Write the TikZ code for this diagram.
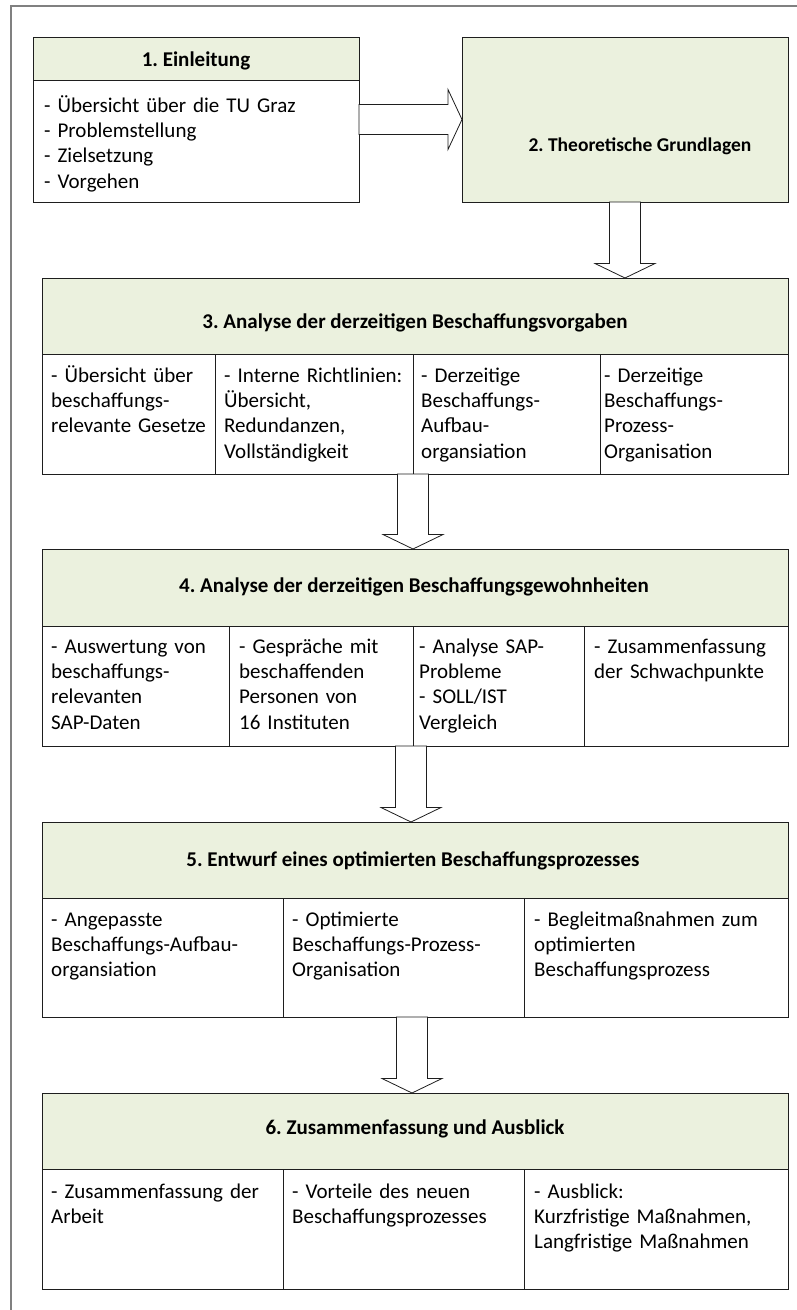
\documentclass[tikz,border=0pt]{standalone}
\usepackage{fontspec}
\setmainfont{Carlito}
\usetikzlibrary{calc}
\frenchspacing

\definecolor{hdrgreen}{RGB}{235,241,222}
\definecolor{framegray}{RGB}{128,128,128}
\definecolor{boxedge}{RGB}{30,30,30}

\tikzset{
  boxline/.style={draw=boxedge, line width=1pt},
  area/.style={boxline, anchor=north west, inner sep=0pt, outer sep=0pt},
  hdr/.style={area, fill=hdrgreen},
  cell/.style={area, fill=white},
  titletext/.style={inner sep=0pt, anchor=center, text height=14pt, text depth=5pt,
    font=\bfseries\fontsize{21}{25.4}\selectfont},
  bodytext/.style={inner sep=0pt, anchor=base west, text width=260pt, align=left,
    font=\fontsize{21}{25.4}\selectfont},
  blockarrow/.style={draw=boxedge, line width=0.8pt, fill=white, line join=miter},
}

% hollow block arrow pointing down from #1 to the y-level of #2
\newcommand\downblock[2]{%
  \draw[blockarrow] let \p1=(#1), \p2=(#2) in
    (\x1-15.5pt,\y1) -- (\x1-15.5pt,\y2+14.5pt) -- (\x1-30pt,\y2+14.5pt) -- (\x1,\y2)
    -- (\x1+30pt,\y2+14.5pt) -- (\x1+15.5pt,\y2+14.5pt) -- (\x1+15.5pt,\y1) -- cycle;}

\begin{document}
\begin{tikzpicture}[x=1pt, y=-1pt]
\useasboundingbox (0,0) rectangle (797,1310);

% page frame
\draw[framegray, line width=1.5pt] (11,1310) -- (11,6) -- (797,6);

% --- 1. Einleitung
\node[cell, minimum width=326pt, minimum height=165pt] (b1) at (33,37) {};
\node[hdr, minimum width=326pt, minimum height=43pt] (b1h) at (33,37) {};
\node[titletext] (t1) at (196,62) {1. Einleitung};
\node[bodytext] (t1b) at (44,112) {- Übersicht über die TU Graz\\- Problemstellung\\- Zielsetzung\\- Vorgehen};

% --- 2. Theoretische Grundlagen
\node[hdr, minimum width=326pt, minimum height=165pt] (b2) at (462,37) {};
\node[titletext, font=\bfseries\fontsize{19.5}{23.5}\selectfont] (t2) at (640,147) {2. Theoretische Grundlagen};

% --- 3. Analyse der derzeitigen Beschaffungsvorgaben
\node[cell, minimum width=746pt, minimum height=196pt] (b3) at (42,278) {};
\node[hdr, minimum width=746pt, minimum height=76pt] (b3h) at (42,278) {};
\node[cell, minimum width=173pt, minimum height=120pt] (b3a) at (42,354) {};
\node[cell, minimum width=198pt, minimum height=120pt] (b3b) at (215,354) {};
\node[cell, minimum width=187pt, minimum height=120pt] (b3c) at (413,354) {};
\node[cell, minimum width=188pt, minimum height=120pt] (b3d) at (600,354) {};
\node[titletext] (t3) at (415,324) {3. Analyse der derzeitigen Beschaffungsvorgaben};
\node[bodytext] (t3a) at (51,382) {- Übersicht über\\beschaffungs-\\relevante Gesetze};
\node[bodytext] (t3b) at (224,382) {- Interne Richtlinien:\\Übersicht,\\Redundanzen,\\Vollständigkeit};
\node[bodytext] (t3c) at (421,382) {- Derzeitige\\Beschaffungs-\\Aufbau-\\organsiation};
\node[bodytext] (t3d) at (604,382) {- Derzeitige\\Beschaffungs-\\Prozess-\\Organisation};

% --- 4. Analyse der derzeitigen Beschaffungsgewohnheiten
\node[cell, minimum width=746pt, minimum height=197pt] (b4) at (42,549) {};
\node[hdr, minimum width=746pt, minimum height=77pt] (b4h) at (42,549) {};
\node[cell, minimum width=187pt, minimum height=120pt] (b4a) at (42,626) {};
\node[cell, minimum width=184pt, minimum height=120pt] (b4b) at (229,626) {};
\node[cell, minimum width=171pt, minimum height=120pt] (b4c) at (413,626) {};
\node[cell, minimum width=204pt, minimum height=120pt] (b4d) at (584,626) {};
\node[titletext] (t4) at (414,588) {4. Analyse der derzeitigen Beschaffungsgewohnheiten};
\node[bodytext] (t4a) at (51,653) {- Auswertung von\\beschaffungs-\\relevanten\\SAP-Daten};
\node[bodytext] (t4b) at (239,653) {- Gespräche mit\\beschaffenden\\Personen von\\16 Instituten};
\node[bodytext] (t4c) at (419,653) {- Analyse SAP-\\Probleme\\- SOLL/IST\\Vergleich};
\node[bodytext] (t4d) at (594,653) {- Zusammenfassung\\der Schwachpunkte};

% --- 5. Entwurf eines optimierten Beschaffungsprozesses
\node[cell, minimum width=746pt, minimum height=195pt] (b5) at (42,822) {};
\node[hdr, minimum width=746pt, minimum height=76pt] (b5h) at (42,822) {};
\node[cell, minimum width=241pt, minimum height=119pt] (b5a) at (42,898) {};
\node[cell, minimum width=241pt, minimum height=119pt] (b5b) at (283,898) {};
\node[cell, minimum width=264pt, minimum height=119pt] (b5c) at (524,898) {};
\node[titletext] (t5) at (413,862) {5. Entwurf eines optimierten Beschaffungsprozesses};
\node[bodytext] (t5a) at (51,926) {- Angepasste\\Beschaffungs-Aufbau-\\organsiation};
\node[bodytext] (t5b) at (292,926) {- Optimierte\\Beschaffungs-Prozess-\\Organisation};
\node[bodytext] (t5c) at (534,926) {- Begleitmaßnahmen zum\\optimierten\\Beschaffungsprozess};

% --- 6. Zusammenfassung und Ausblick
\node[cell, minimum width=746pt, minimum height=196pt] (b6) at (42,1093) {};
\node[hdr, minimum width=746pt, minimum height=76pt] (b6h) at (42,1093) {};
\node[cell, minimum width=241pt, minimum height=120pt] (b6a) at (42,1169) {};
\node[cell, minimum width=241pt, minimum height=120pt] (b6b) at (283,1169) {};
\node[cell, minimum width=264pt, minimum height=120pt] (b6c) at (524,1169) {};
\node[titletext] (t6) at (415,1130) {6. Zusammenfassung und Ausblick};
\node[bodytext] (t6a) at (51,1198) {- Zusammenfassung der\\Arbeit};
\node[bodytext] (t6b) at (292,1198) {- Vorteile des neuen\\Beschaffungsprozesses};
\node[bodytext] (t6c) at (534,1198) {- Ausblick:\\Kurzfristige Maßnahmen,\\Langfristige Maßnahmen};

% --- block arrows between the chapters
\draw[blockarrow] let \p1=(b1.east), \p2=(b2.west) in
  (\x1,\y1+15pt) -- (\x2-14pt,\y1+15pt) -- (\x2-14pt,\y1+30pt) -- (\x2,\y1)
  -- (\x2-14pt,\y1-30pt) -- (\x2-14pt,\y1-15pt) -- (\x1,\y1-15pt) -- cycle;
\downblock{b2.south}{b3.north}
\downblock{b3b.south east}{b4.north}
\downblock{$(b4b.south east)+(-2,0)$}{b5.north}
\downblock{$(b5.south)+(-3,0)$}{b6.north}

\end{tikzpicture}
\end{document}
